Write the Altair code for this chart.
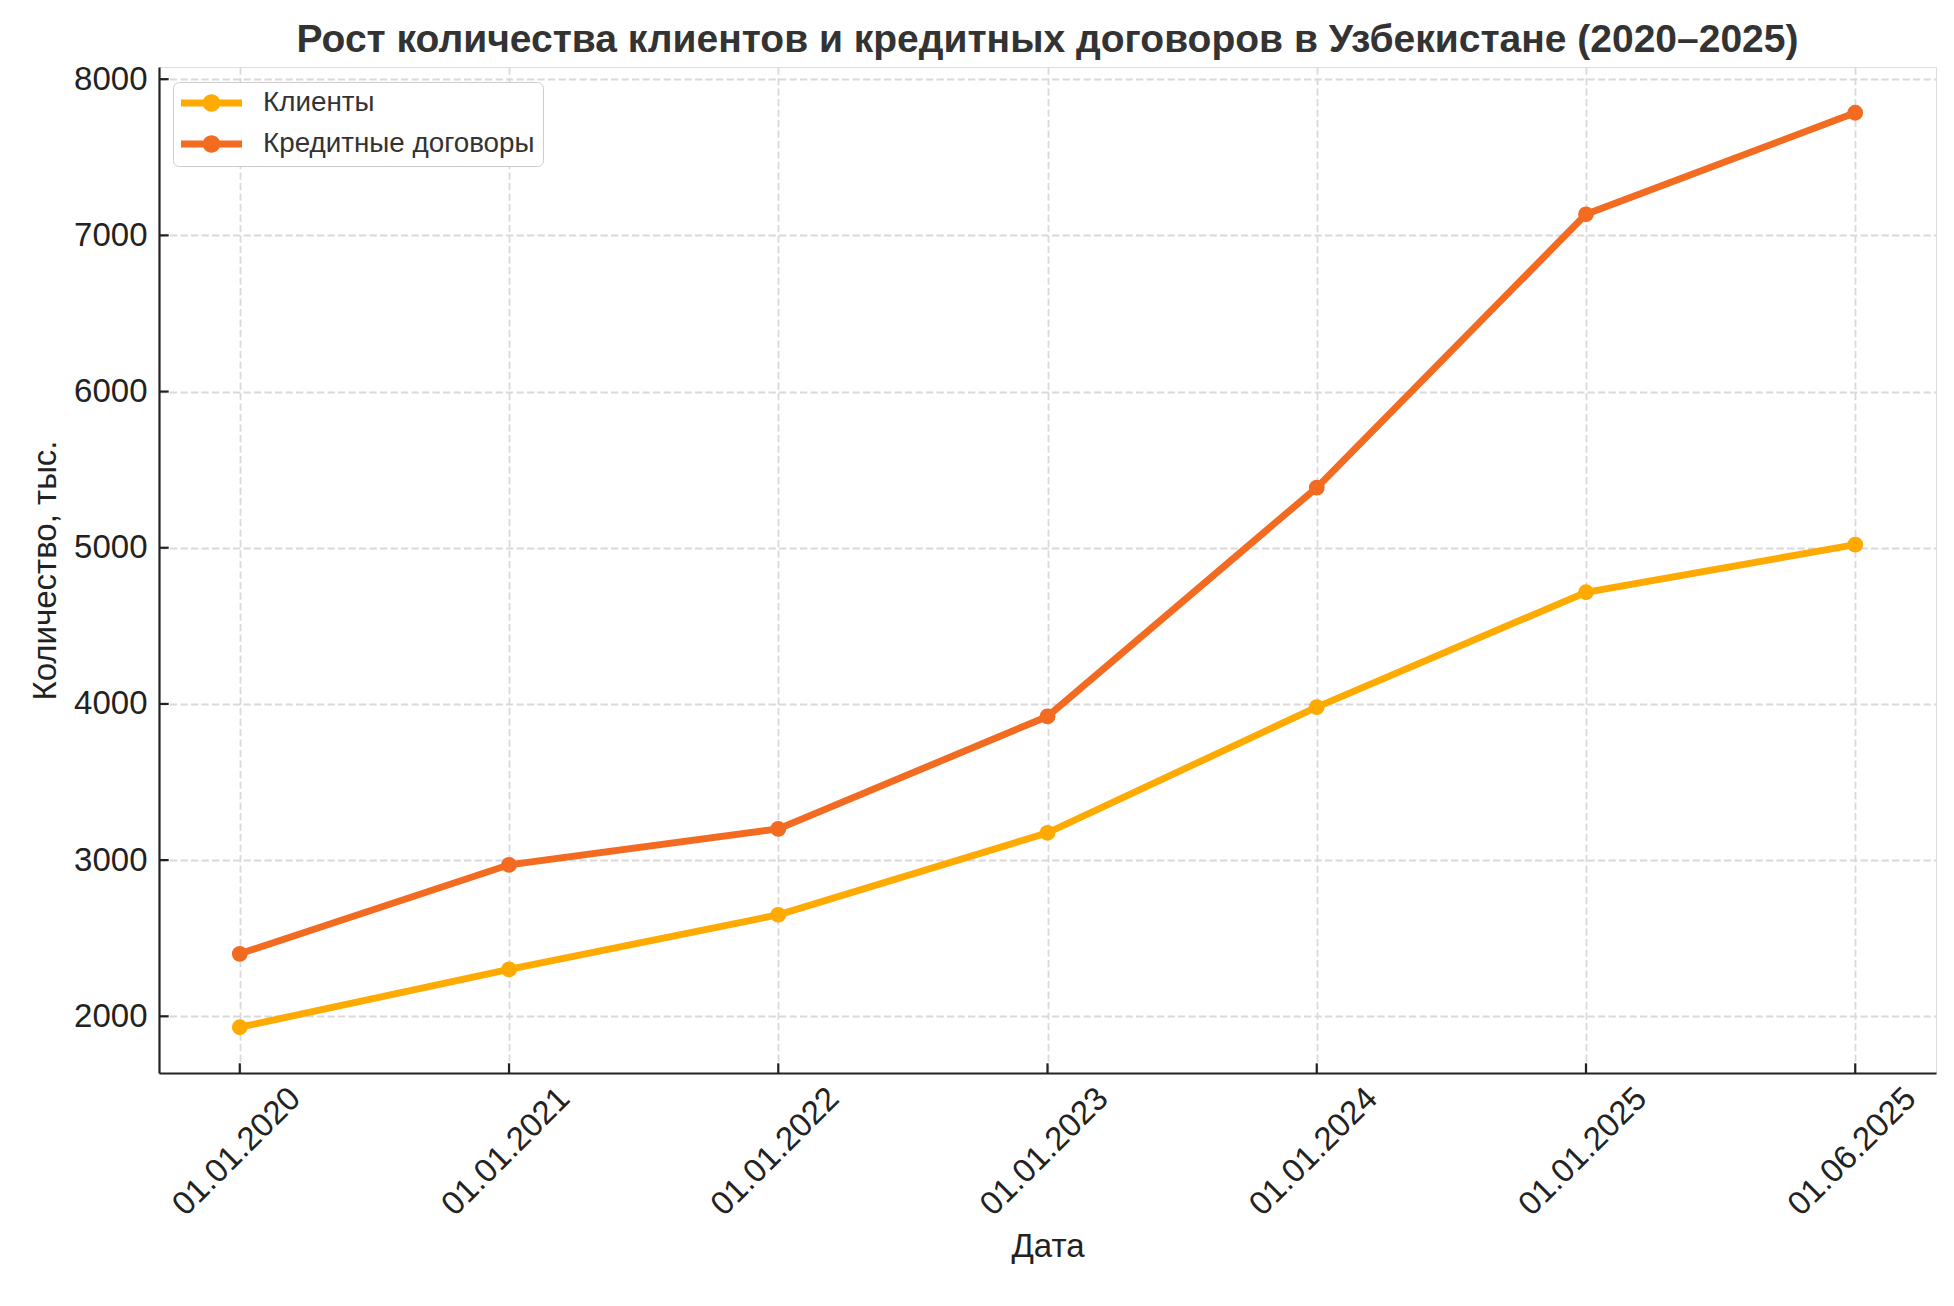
import altair as alt
import pandas as pd

# ---- data ----
dates = ["01.01.2020", "01.01.2021", "01.01.2022", "01.01.2023",
         "01.01.2024", "01.01.2025", "01.06.2025"]
clients = [1930, 2300, 2650, 3175, 3980, 4715, 5020]
contracts = [2400, 2970, 3200, 3920, 5385, 7135, 7785]
series = ["Клиенты", "Кредитные договоры"]
colors = ["#FFAA00", "#F26B21"]
y_ticks = [2000, 3000, 4000, 5000, 6000, 7000, 8000]
y_domain = [1637, 8078]

W, H = 1777, 1006
FONT = "Liberation Sans"
LW = 6.9

rows = []
for i, (d, c, k) in enumerate(zip(dates, clients, contracts)):
    rows.append({"idx": i, "date": d, "series": series[0], "value": c})
    rows.append({"idx": i, "date": d, "series": series[1], "value": k})
df = pd.DataFrame(rows)

x_scale = alt.Scale(type="point", domain=dates, padding=0.3)
y_scale = alt.Scale(domain=y_domain, nice=False, zero=False)
color_scale = alt.Scale(domain=series, range=colors)

grid_kw = dict(grid=True, gridColor="#d9d9d9", gridDash=[7.3, 3.2], gridWidth=1.8,
               domainColor="#222222", domainWidth=2.2, ticks=False,
               labelFont=FONT, labelFontSize=33, labelColor="#222222",
               titleFont=FONT, titleFontSize=33, titleFontWeight="normal",
               titleColor="#222222", labelOverlap=False, labelFlush=False,
               labelBound=False)

x_axis = alt.Axis(title="Дата", labelAngle=315, labelAlign="right",
                  labelBaseline="middle", labelOffset=55, labelPadding=20,
                  titleX=W / 2, titleY=183, titleBaseline="alphabetic",
                  titleAlign="center", **grid_kw)
y_axis = alt.Axis(title="Количество, тыс.", values=y_ticks, format="d",
                  labelPadding=12, titleAngle=270, titleX=-104, titleY=H / 2,
                  titleBaseline="alphabetic", titleAlign="center", **grid_kw)

# legend symbol: a short line with a dot in its middle (unit coordinates)
sym = ("M-1,-0.113L1,-0.113L1,0.113L-1,0.113Z "
       "M0.287,0A0.287,0.287 0 1,1 -0.287,0A0.287,0.287 0 1,1 0.287,0Z")

legend = alt.Legend(
    title=None, orient="none", legendX=14, legendY=15,
    symbolType=sym, symbolSize=3721, symbolStrokeWidth=0, symbolOpacity=1,
    labelFont=FONT, labelFontSize=27.8, labelColor="#333333", labelLimit=600,
    labelOffset=21, padding=8, rowPadding=13, clipHeight=26,
    fillColor="white", strokeColor="#cccccc", cornerRadius=6,
)

x_enc = alt.X("date:N", scale=x_scale, axis=x_axis, sort=dates)
y_enc = alt.Y("value:Q", scale=y_scale, axis=y_axis)

base = alt.Chart(df).encode(
    x=x_enc, y=y_enc,
    color=alt.Color("series:N", scale=color_scale, legend=legend),
    order=alt.Order("idx:Q"),
)

points = base.mark_circle(size=250, opacity=1)
lines = base.mark_line(strokeWidth=LW)

# inward-pointing tick marks (matplotlib style)
x_ticks_layer = alt.Chart(pd.DataFrame({"date": dates})).mark_rule(
    color="#222222", strokeWidth=2.2
).encode(x=x_enc, y=alt.value(H), y2=alt.value(H - 9.7))

y_ticks_layer = alt.Chart(pd.DataFrame({"value": y_ticks})).mark_rule(
    color="#222222", strokeWidth=2.2
).encode(y=y_enc, x=alt.value(0), x2=alt.value(9.7))

chart = alt.layer(points, lines, x_ticks_layer, y_ticks_layer).properties(
    width=W, height=H,
    title=alt.Title(
        "Рост количества клиентов и кредитных договоров в Узбекистане (2020–2025)",
        font=FONT, fontSize=39, fontWeight="bold", color="#333333",
        anchor="middle", frame="group", offset=3,
    ),
    autosize=alt.AutoSizeParams(type="none"),
    padding={"left": 151, "top": 59, "right": 10, "bottom": 224},
).configure_view(strokeWidth=0).configure(font=FONT, background="white")

chart.save("out.html", embed_options={"renderer": "svg", "actions": False})
